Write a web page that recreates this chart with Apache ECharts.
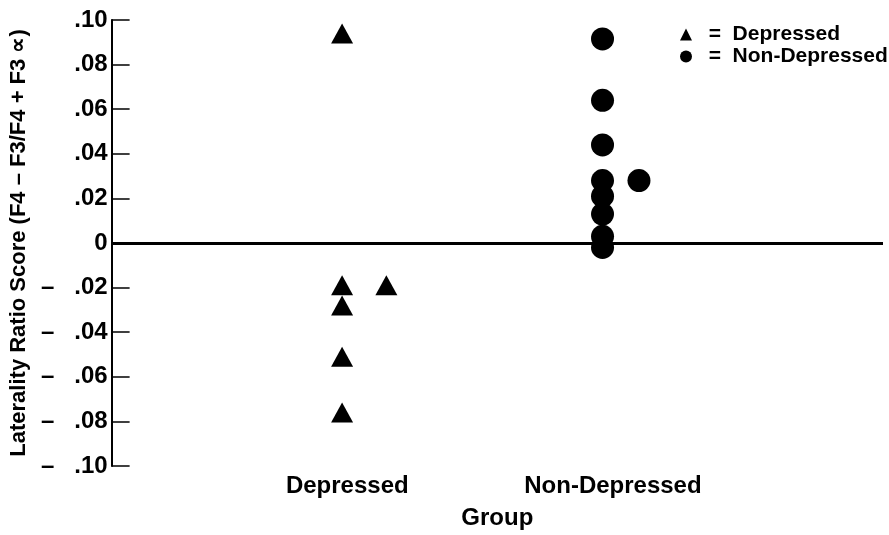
<!DOCTYPE html>
<html>
<head>
<meta charset="utf-8">
<script src="https://cdn.jsdelivr.net/npm/echarts@6/dist/echarts.min.js"></script>
<style>
  html, body { margin: 0; padding: 0; background: #fff; }
  #chart { width: 889px; height: 535px; }
</style>
</head>
<body>
<div id="chart"></div>
<script>
// ---- data ----
var groupNames = ['Depressed', 'Non-Depressed'];
var groupPositions = [1, 2];
var depressedX = [1, 1, 1.17, 1, 1, 1];
var depressedY = [0.094, -0.019, -0.019, -0.028, -0.051, -0.076];
var nonDepressedX = [2, 2, 2, 2, 2, 2, 2, 2, 2.14];
var nonDepressedY = [0.0915, 0.064, 0.044, 0.028, 0.021, 0.013, 0.003, -0.002, 0.028];
var yTickValues = [0.10, 0.08, 0.06, 0.04, 0.02, 0, -0.02, -0.04, -0.06, -0.08, -0.10];
var yAxisTitle = 'Laterality Ratio Score (F4 \u2013 F3/F4 + F3 \u221D)';
var xAxisTitle = 'Group';

var FONT = '"Liberation Sans", Arial, Helvetica, sans-serif';

function zip(xs, ys) { return xs.map(function (x, i) { return [x, ys[i]]; }); }

function yLabel(v) {
  var r = Math.round(Math.abs(v) * 100);
  if (r === 0) return '0';
  var s = '.' + (r < 10 ? '0' + r : '' + r);
  return v < 0 ? '\u2013   ' + s : s;
}

var chart = echarts.init(document.getElementById('chart'), null, { renderer: 'canvas' });
chart.setOption({
  animation: false,
  backgroundColor: '#fff',
  textStyle: { fontFamily: FONT },
  grid: { left: 110, right: 6, top: 20, bottom: 67, containLabel: false },
  legend: {
    orient: 'vertical',
    left: 675,
    top: 19,
    itemWidth: 12,
    itemHeight: 12,
    itemGap: 1,
    formatter: '  =  {name}',
    textStyle: { fontFamily: FONT, fontSize: 21, fontWeight: 'bold', color: '#000' },
    data: [
      { name: groupNames[0], icon: 'triangle', itemStyle: { color: '#000', opacity: 1 } },
      { name: groupNames[1], icon: 'circle', itemStyle: { color: '#000', opacity: 1 } }
    ]
  },
  xAxis: {
    type: 'value',
    min: 0.115,
    max: 3.077,
    name: xAxisTitle,
    nameLocation: 'middle',
    nameGap: 40,
    nameTextStyle: { fontFamily: FONT, fontSize: 24, fontWeight: 'bold', color: '#000' },
    axisLine: { show: false, onZero: false },
    axisTick: { show: false },
    splitLine: { show: false },
    axisLabel: {
      show: true,
      customValues: [1.02, 2.04],
      margin: 8,
      fontFamily: FONT,
      fontSize: 24,
      fontWeight: 'bold',
      color: '#000',
      formatter: function (v) {
        var idx = Math.round(v) - 1;
        return groupNames[idx] || '';
      }
    }
  },
  yAxis: {
    type: 'value',
    min: -0.1,
    max: 0.1,
    interval: 0.02,
    name: yAxisTitle,
    nameLocation: 'middle',
    nameGap: 80,
    nameTextStyle: { fontFamily: FONT, fontSize: 22, fontWeight: 'bold', color: '#000' },
    axisLine: { show: true, onZero: false, lineStyle: { color: '#000', width: 2 } },
    axisTick: { show: true, inside: true, length: 18, lineStyle: { color: '#000', width: 1.5 },
      customValues: yTickValues },
    splitLine: { show: false },
    axisLabel: {
      margin: 4,
      customValues: yTickValues,
      fontFamily: FONT,
      fontSize: 24,
      fontWeight: 'bold',
      color: '#000',
      formatter: yLabel
    }
  },
  series: [
    {
      name: groupNames[0],
      type: 'scatter',
      symbol: 'triangle',
      symbolSize: [22, 20],
      itemStyle: { color: '#000', opacity: 1 },
      data: zip(depressedX, depressedY),
      markLine: {
        silent: true,
        symbol: ['none', 'none'],
        label: { show: false },
        lineStyle: { color: '#000', width: 3, type: 'solid', opacity: 1 },
        data: [{ yAxis: 0 }]
      }
    },
    {
      name: groupNames[1],
      type: 'scatter',
      symbol: 'circle',
      symbolSize: 23,
      itemStyle: { color: '#000', opacity: 1 },
      data: zip(nonDepressedX, nonDepressedY)
    }
  ]
});
</script>
</body>
</html>
